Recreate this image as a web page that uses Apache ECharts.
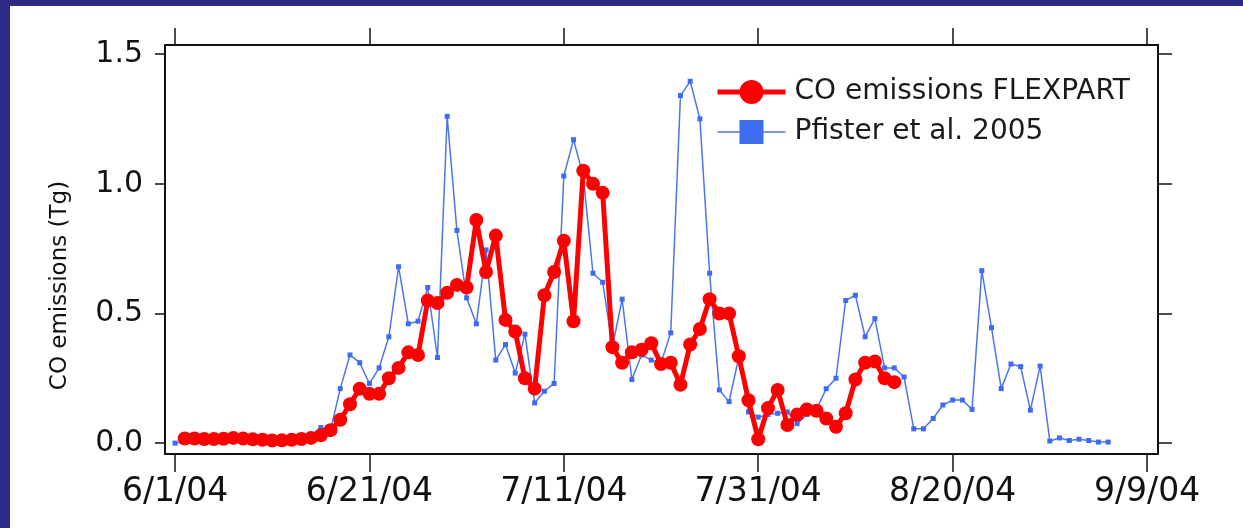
<!DOCTYPE html>
<html>
<head>
<meta charset="utf-8">
<script src="https://cdn.jsdelivr.net/npm/echarts@6/dist/echarts.min.js"></script>
<style>
  html, body { margin: 0; padding: 0; width: 1243px; height: 528px; background: #2E2B86; overflow: hidden; }
  #chart { position: absolute; left: 10px; top: 6px; width: 1233px; height: 522px; background: #ffffff; }
</style>
</head>
<body>
<div id="chart"></div>
<script>
// Days counted from 6/1/04 (day 0)
const xTickDays = [0, 20, 40, 60, 80, 100];
const xTickLabels = ['6/1/04', '6/21/04', '7/11/04', '7/31/04', '8/20/04', '9/9/04'];
const yTickValues = [0, 0.5, 1.0, 1.5];
const yTickLabels = ['0.0', '0.5', '1.0', '1.5'];

// CO emissions FLEXPART: daily, first day = 6/2/04 (day 1)
const flexpartFirstDay = 1;
const flexpartValues = [
  0.018, 0.018, 0.016, 0.016, 0.017, 0.020, 0.018, 0.015, 0.013, 0.010,
  0.011, 0.013, 0.016, 0.020, 0.030, 0.050, 0.090, 0.150, 0.210, 0.190,
  0.190, 0.250, 0.290, 0.350, 0.340, 0.550, 0.540, 0.580, 0.610, 0.600,
  0.860, 0.660, 0.800, 0.475, 0.430, 0.250, 0.210, 0.570, 0.660, 0.780,
  0.470, 1.050, 1.000, 0.965, 0.370, 0.310, 0.350, 0.360, 0.385, 0.305,
  0.310, 0.225, 0.380, 0.440, 0.555, 0.500, 0.500, 0.335, 0.165, 0.015,
  0.135, 0.205, 0.070, 0.110, 0.130, 0.125, 0.095, 0.063, 0.115, 0.245,
  0.310, 0.315, 0.250, 0.235
];

// Pfister et al. 2005: daily, first day = 6/1/04 (day 0)
const pfisterFirstDay = 0;
const pfisterValues = [
  0.000, 0.005, 0.008, 0.010, 0.010, 0.012, 0.010, 0.008, 0.010, 0.010,
  0.012, 0.015, 0.020, 0.025, 0.030, 0.060, 0.050, 0.210, 0.340, 0.310,
  0.230, 0.290, 0.410, 0.680, 0.460, 0.470, 0.600, 0.330, 1.260, 0.820,
  0.560, 0.460, 0.745, 0.320, 0.380, 0.270, 0.420, 0.155, 0.200, 0.230,
  1.030, 1.170, 1.030, 0.655, 0.620, 0.370, 0.555, 0.245, 0.340, 0.320,
  0.310, 0.425, 1.340, 1.395, 1.250, 0.655, 0.205, 0.160, 0.330, 0.120,
  0.100, 0.110, 0.115, 0.120, 0.075, 0.110, 0.130, 0.210, 0.250, 0.550,
  0.570, 0.410, 0.480, 0.290, 0.290, 0.255, 0.055, 0.055, 0.095, 0.147,
  0.166, 0.166, 0.130, 0.665, 0.445, 0.210, 0.305, 0.295, 0.127, 0.297,
  0.008, 0.020, 0.010, 0.015, 0.010, 0.004, 0.004
];

const flexpartData = flexpartValues.map((v, i) => [flexpartFirstDay + i, v]);
const pfisterData = pfisterValues.map((v, i) => [pfisterFirstDay + i, v]);

const FONT = 'DejaVu Sans';
const xMin = -1.03, xMax = 101.13, yMin = -0.042, yMax = 1.535;
const frameLine = { show: true, onZero: false, lineStyle: { color: '#111', width: 2 } };

const chart = echarts.init(document.getElementById('chart'), null, { renderer: 'canvas' });
chart.setOption({
  animation: false,
  backgroundColor: '#ffffff',
  grid: { left: 155, top: 39, width: 993, height: 409, containLabel: false },
  legend: {
    left: 700, top: 67, orient: 'vertical',
    itemWidth: 68, itemHeight: 30, itemGap: 12,
    textStyle: { fontFamily: FONT, fontSize: 28, color: '#1a1a1a', padding: [0, 0, 0, 4] },
    data: [
      { name: 'CO emissions FLEXPART', lineStyle: { color: '#ff0000', width: 5 } },
      { name: 'Pfister et al. 2005', lineStyle: { color: '#4a76e8', width: 1.5 } }
    ]
  },
  xAxis: [
    {
      type: 'value', position: 'bottom', min: xMin, max: xMax,
      axisLine: frameLine,
      axisTick: { show: true, inside: false, length: 18, customValues: xTickDays, lineStyle: { color: '#111', width: 1.5 } },
      axisLabel: {
        show: true, customValues: xTickDays, margin: 22,
        fontFamily: FONT, fontSize: 33, color: '#111',
        formatter: (v) => xTickLabels[xTickDays.indexOf(Math.round(v))] || ''
      },
      splitLine: { show: false }
    },
    {
      type: 'value', position: 'top', min: xMin, max: xMax,
      axisLine: frameLine,
      axisTick: { show: true, inside: false, length: 17, customValues: xTickDays, lineStyle: { color: '#111', width: 1.5 } },
      axisLabel: { show: false },
      splitLine: { show: false }
    }
  ],
  yAxis: [
    {
      type: 'value', position: 'left', min: yMin, max: yMax,
      name: 'CO emissions (Tg)', nameLocation: 'middle', nameGap: 93, nameRotate: 90,
      nameTextStyle: { fontFamily: FONT, fontSize: 23, color: '#111', padding: [0, 72, 0, 0] },
      axisLine: frameLine,
      axisTick: { show: true, inside: false, length: 10, customValues: yTickValues, lineStyle: { color: '#111', width: 1.5 } },
      axisLabel: {
        show: true, customValues: yTickValues, margin: 22,
        fontFamily: FONT, fontSize: 30, color: '#111',
        formatter: (v) => yTickLabels[yTickValues.indexOf(Math.round(v * 10) / 10)] || ''
      },
      splitLine: { show: false }
    },
    {
      type: 'value', position: 'right', min: yMin, max: yMax,
      axisLine: frameLine,
      axisTick: { show: true, inside: false, length: 14, customValues: yTickValues, lineStyle: { color: '#111', width: 1.5 } },
      axisLabel: { show: false },
      splitLine: { show: false }
    }
  ],
  series: [
    {
      name: 'Pfister et al. 2005', type: 'line', data: pfisterData,
      symbol: 'rect', symbolSize: 5, z: 2,
      lineStyle: { color: '#4a76e8', width: 1.5 },
      itemStyle: { color: '#3d6cf0' }
    },
    {
      name: 'CO emissions FLEXPART', type: 'line', data: flexpartData,
      symbol: 'circle', symbolSize: 14, z: 3,
      lineStyle: { color: '#ff0000', width: 5 },
      itemStyle: { color: '#ff0000' }
    }
  ]
});
</script>
</body>
</html>
